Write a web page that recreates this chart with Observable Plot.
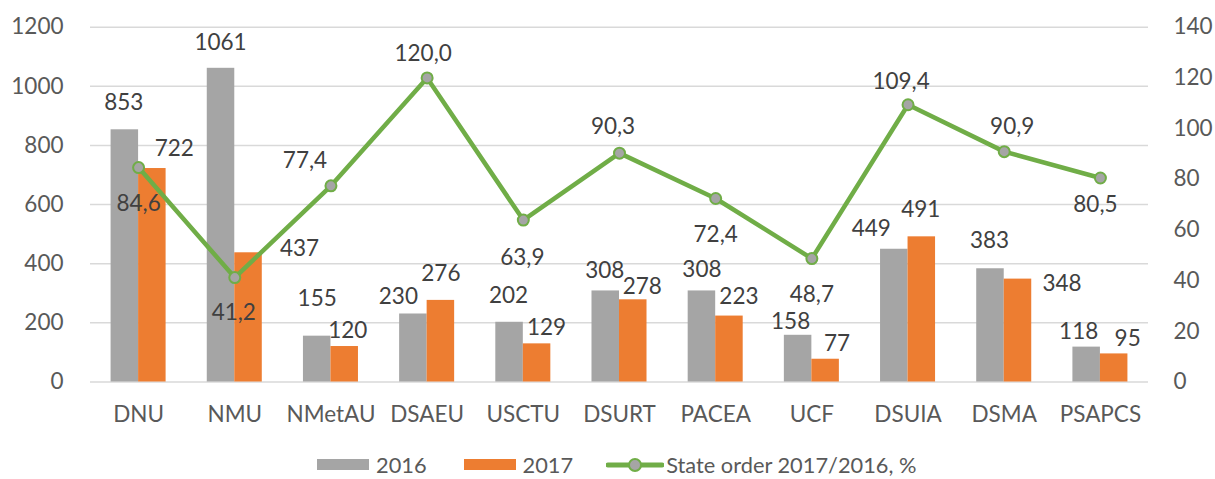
<!DOCTYPE html>
<html>
<head>
<meta charset="utf-8">
<script src="https://cdn.jsdelivr.net/npm/d3@7"></script>
<script src="https://cdn.jsdelivr.net/npm/@observablehq/plot@0.6"></script>
<style>
  html, body { margin: 0; padding: 0; background: #fff; overflow: hidden; }
  #legend { height: 39px; display: flex; align-items: center; padding-left: 317px; padding-top: 10px; box-sizing: border-box;
    font-family: Lato, "Open Sans", sans-serif; font-size: 21.8px; color: #595959; }
  .sw { width: 52px; height: 11px; display: inline-block; }
  .item { display: flex; align-items: center; }
</style>
</head>
<body>
<div id="chart"></div>
<div id="legend">
  <span class="item"><span class="sw" style="background:#A5A5A5"></span><span style="margin-left:7px">2016</span></span>
  <span class="item" style="margin-left:37px"><span class="sw" style="background:#ED7D31"></span><span style="margin-left:7px">2017</span></span>
  <span class="item" style="margin-left:33px"><svg width="58" height="16" style="display:block"><line x1="2" y1="8" x2="56" y2="8" stroke="#70AD47" stroke-width="5" stroke-linecap="round"/><circle cx="29" cy="8" r="6" fill="#A5A5A5" stroke="#70AD47" stroke-width="2"/></svg><span style="margin-left:2px">State order 2017/2016, %</span></span>
</div>
<script>
const categories = ["DNU", "NMU", "NMetAU", "DSAEU", "USCTU", "DSURT", "PACEA", "UCF", "DSUIA", "DSMA", "PSAPCS"];
const values2016 = [853, 1061, 155, 230, 202, 308, 308, 158, 449, 383, 118];
const values2017 = [722, 437, 120, 276, 129, 278, 223, 77, 491, 348, 95];
const stateOrderRatio = [84.6, 41.2, 77.4, 120.0, 63.9, 90.3, 72.4, 48.7, 109.4, 90.9, 80.5];
const leftTicks = [0, 200, 400, 600, 800, 1000, 1200];
const rightTicks = [0, 20, 40, 60, 80, 100, 120, 140];

// manual label nudges (px), like hand-placed data labels
const nudge2016 = [[-1,-27],[-0.5,-26],[0,-37],[-15,-17.5],[-1,-26],[-1,-20],[0,-21],[-7.5,-13],[-23,-20.5],[-1,-27.5],[-8,-15]];
const nudge2017 = [[22,-20],[51,-4],[3,-16],[0,-26.5],[9.5,-16],[9,-13.5],[9.5,-19],[11.5,-15.5],[-1,-27],[44,4.5],[13.5,-15]];
const nudgeRatio = [[0,36],[-1,35.5],[-26,-25],[-4,-24],[-1,37.5],[-6.5,-26.5],[0,36.5],[0,36],[-7,-22.5],[8,-25],[-5,27]];

const leftMax = 1200, rightMax = 140;
const data = categories.map((c, i) => ({
  cat: c, a: values2016[i], b: values2017[i], r: stateOrderRatio[i], rs: stateOrderRatio[i] * leftMax / rightMax
}));

const W = 1215, H = 440;
const mL = 90, mR = W - 1148;
const step = (W - mL - mR) / categories.length;
const pInner = 0.428;
const bw = step * (1 - pInner);
const FS = 22.5;
const labelFill = "#404040";

const labelMarks = [];
data.forEach((d, i) => {
  labelMarks.push(Plot.text([d], {x: "cat", y: "a", text: d => String(d.a), dx: -bw / 4 + nudge2016[i][0], dy: nudge2016[i][1], fill: labelFill, fontSize: FS}));
  labelMarks.push(Plot.text([d], {x: "cat", y: "b", text: d => String(d.b), dx: bw / 4 + nudge2017[i][0], dy: nudge2017[i][1], fill: labelFill, fontSize: FS}));
  labelMarks.push(Plot.text([d], {x: "cat", y: "rs", text: d => d.r.toFixed(1).replace(".", ","), dx: nudgeRatio[i][0], dy: nudgeRatio[i][1], fill: labelFill, fontSize: FS}));
});

const chart = Plot.plot({
  width: W,
  height: H,
  marginLeft: mL,
  marginRight: mR,
  marginTop: 26.7,
  marginBottom: H - 381.5,
  style: {fontFamily: "Lato, 'Open Sans', sans-serif", fontSize: FS + "px", background: "#fff"},
  x: {domain: categories, paddingInner: pInner, paddingOuter: pInner / 2, align: 0.5, round: false, label: null},
  y: {domain: [0, leftMax], label: null},
  marks: [
    Plot.gridY(leftTicks, {stroke: "#d9d9d9", strokeOpacity: 1, strokeWidth: 1.5}),
    Plot.barY(data, {x: "cat", y: "a", fill: "#A5A5A5", insetRight: bw / 2}),
    Plot.barY(data, {x: "cat", y: "b", fill: "#ED7D31", insetLeft: bw / 2}),
    Plot.line(data, {x: "cat", y: "rs", stroke: "#70AD47", strokeWidth: 4.5, strokeLinejoin: "round"}),
    Plot.dot(data, {x: "cat", y: "rs", r: 5.5, fill: "#A5A5A5", stroke: "#70AD47", strokeWidth: 2}),
    ...labelMarks,
    Plot.axisY(leftTicks, {anchor: "left", tickSize: 0, tickPadding: 27, color: "#595959", fontSize: FS, label: null,
      tickFormat: d => String(d)}),
    Plot.axisY(rightTicks.map(t => t * leftMax / rightMax), {anchor: "right", tickSize: 0, tickPadding: 25, color: "#595959", fontSize: FS, label: null,
      tickFormat: d => String(Math.round(d * rightMax / leftMax))}),
    Plot.axisX({tickSize: 0, tickPadding: 24, color: "#595959", fontSize: FS, label: null})
  ]
});
document.getElementById("chart").appendChild(chart);
</script>
</body>
</html>
